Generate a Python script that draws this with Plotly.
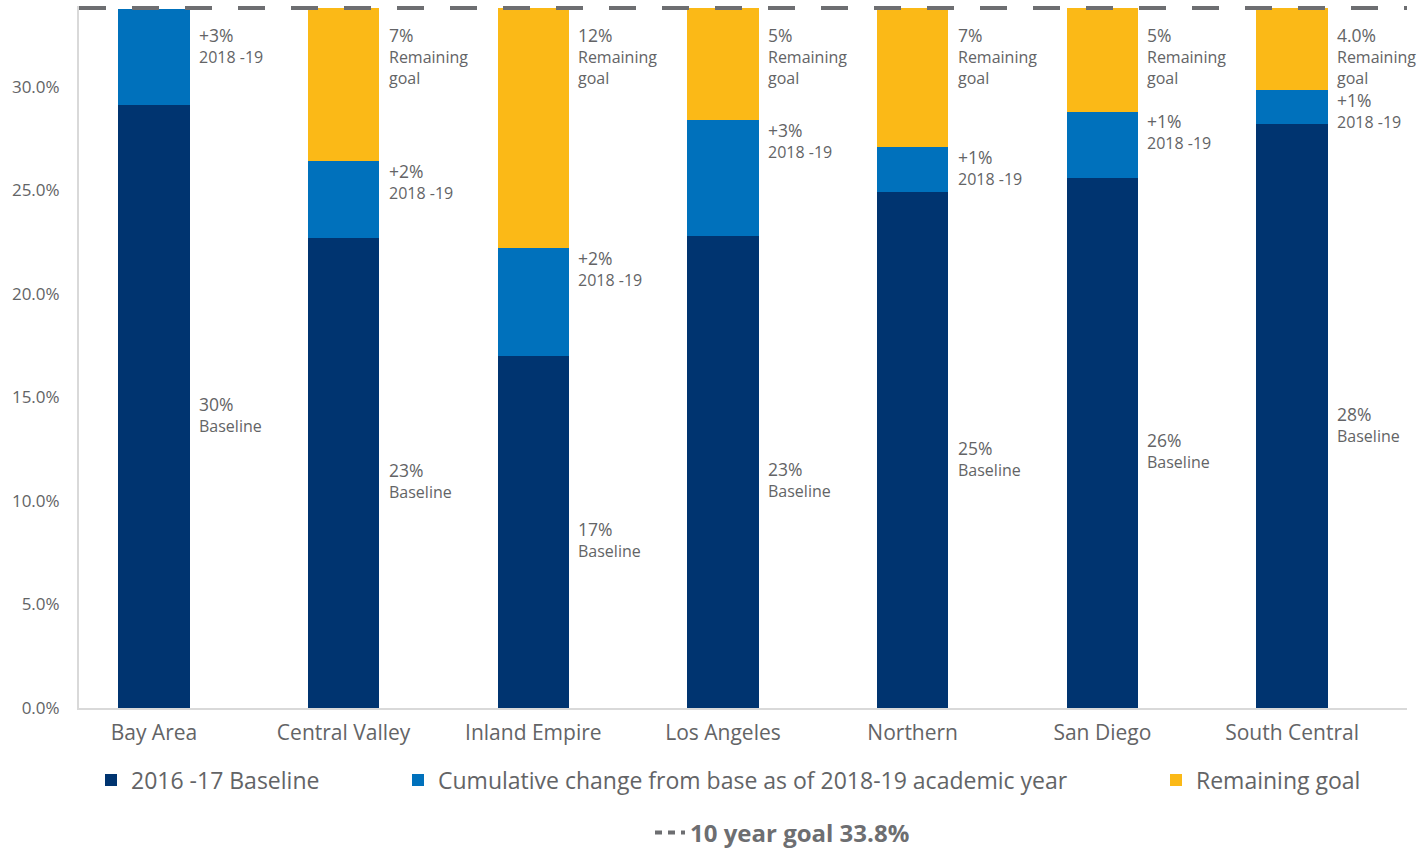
import plotly.graph_objects as go

regions = ["Bay Area", "Central Valley", "Inland Empire", "Los Angeles",
           "Northern", "San Diego", "South Central"]
baseline = [29.1, 22.7, 17.0, 22.8, 24.9, 25.6, 28.2]
change = [4.65, 3.7, 5.2, 5.6, 2.2, 3.2, 1.65]
remaining = [0, 7.4, 11.6, 5.4, 6.7, 5.0, 3.95]
goal = 33.8

baseline_labels = ["30%", "23%", "17%", "23%", "25%", "26%", "28%"]
change_labels = ["+3%", "+2%", "+2%", "+3%", "+1%", "+1%", "+1%"]
remaining_labels = [None, "7%", "12%", "5%", "7%", "5%", "4.0%"]

y_ticks = [0, 5, 10, 15, 20, 25, 30]
y_tick_text = ["0.0%", "5.0%", "10.0%", "15.0%", "20.0%", "25.0%", "30.0%"]

series_names = ["2016 -17 Baseline",
                "Cumulative change from base as of 2018-19 academic year",
                "Remaining goal"]
goal_name = "<b>10 year goal 33.8%</b>"

C_BASE = "#003470"
C_CHANGE = "#0071BC"
C_REM = "#FBB917"
C_TEXT = "#636466"
C_GOAL = "#6D6E71"
FONT = "Open Sans"

fig = go.Figure()
bar_w = 0.377
fig.add_trace(go.Bar(x=regions, y=baseline, name=series_names[0], marker_color=C_BASE,
                     width=bar_w, legend="legend", marker_line_width=0))
fig.add_trace(go.Bar(x=regions, y=change, name=series_names[1], marker_color=C_CHANGE,
                     width=bar_w, legend="legend2", marker_line_width=0))
fig.add_trace(go.Bar(x=regions, y=remaining, name=series_names[2], marker_color=C_REM,
                     width=bar_w, legend="legend3", marker_line_width=0))
# legend entry for goal line (line itself drawn as a shape spanning the plot)
fig.add_trace(go.Scatter(x=[None], y=[None], mode="lines", name=goal_name,
                         line=dict(color=C_GOAL, width=4, dash="7px,6px"),
                         legend="legend4"))

fig.add_shape(type="line", xref="x domain", yref="y", x0=0, x1=1, y0=goal, y1=goal,
              line=dict(color=C_GOAL, width=4, dash="27px,26px"), layer="above")

XSHIFT = 43
lab_font = dict(family=FONT, size=16, color=C_TEXT)


def lab(first, rest):
    return "<br>".join([f"<span style='font-size:17.5px'>{first}</span>"] + list(rest))


for i, r in enumerate(regions):
    fig.add_annotation(x=r, y=baseline[i] / 2, xref="x", yref="y",
                       text=lab(baseline_labels[i], ["Baseline"]),
                       xanchor="left", yanchor="middle", align="left",
                       xshift=XSHIFT, yshift=-8, showarrow=False, font=lab_font)
    top = baseline[i] + change[i]
    fig.add_annotation(x=r, y=min(top + 0.2, goal - 0.6), xref="x", yref="y",
                       text=lab(change_labels[i], ["2018 -19"]),
                       xanchor="left", yanchor="top", align="left",
                       xshift=XSHIFT, showarrow=False, font=lab_font)
    if remaining_labels[i]:
        fig.add_annotation(x=r, y=goal - 0.6, xref="x", yref="y",
                           text=lab(remaining_labels[i], ["Remaining", "goal"]),
                           xanchor="left", yanchor="top", align="left",
                           xshift=XSHIFT, showarrow=False, font=lab_font)

leg_common = dict(orientation="h", xref="container", yref="container",
                  yanchor="middle", xanchor="left", bgcolor="rgba(0,0,0,0)",
                  font=dict(family=FONT, size=23, color=C_TEXT), itemwidth=30)
W, H = 1424, 849
fig.update_layout(
    width=W, height=H,
    barmode="stack",
    plot_bgcolor="white", paper_bgcolor="white",
    margin=dict(l=79, r=17, t=6, b=141),
    font=dict(family=FONT, color=C_TEXT),
    xaxis=dict(range=[-0.395, 6.606], showgrid=False, showline=True,
               linecolor="#D9D9D9", linewidth=2, ticks="",
               tickfont=dict(family=FONT, size=21, color=C_TEXT),
               ticklabelstandoff=5),
    yaxis=dict(range=[0, 33.9], showgrid=False, showline=True,
               linecolor="#D9D9D9", linewidth=2, ticks="",
               tickvals=y_ticks, ticktext=y_tick_text,
               tickfont=dict(family=FONT, size=17, color=C_TEXT),
               ticklabelstandoff=14, zeroline=False),
    legend=dict(**leg_common, x=(131 - 40) / W, y=(H - 780) / H),
    legend2=dict(**leg_common, x=(438 - 40) / W, y=(H - 780) / H),
    legend3=dict(**leg_common, x=(1196 - 40) / W, y=(H - 780) / H),
    legend4=dict(**leg_common, x=(690 - 40) / W, y=(H - 833) / H),
    showlegend=True,
)
fig.update_layout(legend4_font=dict(family=FONT, size=24, color=C_GOAL))

fig.write_html("out.html", config={"displayModeBar": False},
               post_script="document.body.style.margin='0';document.body.style.padding='0';")
